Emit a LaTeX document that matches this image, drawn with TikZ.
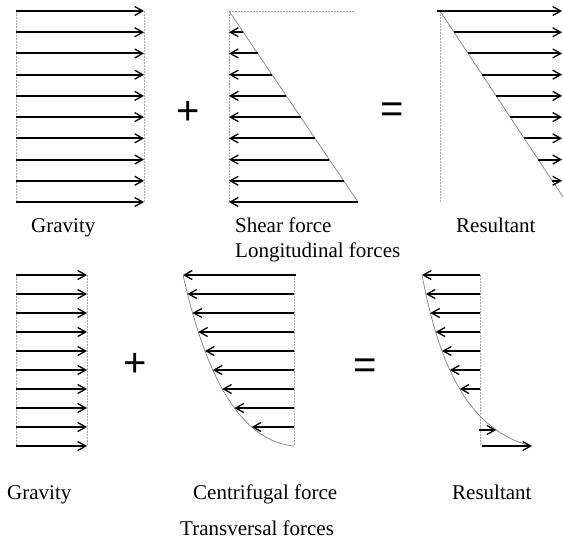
\documentclass[tikz,border=0pt]{standalone}
\usepackage{fontspec}
\setmainfont{Liberation Serif}
\newfontfamily\symfont{Liberation Sans}
\usetikzlibrary{arrows.meta,intersections}
\begin{document}
\begin{tikzpicture}[x=1pt,y=-1pt,
  force/.style={line width=1.9pt,-{Straight Barb[length=8pt,width=9pt,line width=1.3pt]}},
  frame/.style={gray!70,line width=0.7pt,dash pattern=on 2pt off 1pt},
  profile/.style={gray,line width=0.7pt},
  lbl/.style={font=\fontsize{21}{25}\selectfont,anchor=base west,inner sep=0pt},
  op/.style={font=\symfont\fontsize{40}{40}\selectfont,inner sep=0pt}]
\useasboundingbox (0,0) rectangle (563,539);

% ---------- top row: longitudinal forces ----------
% gravity
\draw[frame] (16,11) -- (16,202);
\draw[frame] (144,11) -- (144,202);
\foreach \i in {0,...,9}
  \draw[force] (16,{11+21.222*\i}) -- (144,{11+21.222*\i});

\node[op] (plusA) at (188,113) {+};

% shear force
\draw[frame] (229,11) -- (229,202);
\draw[frame] (229,11) -- (354,11);
\draw[profile] (229,11) -- (358,202);
\foreach \i in {1,...,9}
  \draw[force] ({229+129*\i/9},{11+21.222*\i}) -- (229,{11+21.222*\i});

\node[op] (eqA) at (392,113) {=};

% resultant
\draw[frame] (440,11) -- (440,202);
\draw[profile] (440,11) -- (563,197);
\draw[force] (437,11) -- (562,11);
\foreach \i in {1,...,8}
  \draw[force] ({440+0.661*21.222*\i},{11+21.222*\i}) -- (562,{11+21.222*\i});

\node[lbl] (gravA) at (31,232) {Gravity};
\node[lbl] (shear) at (235,232) {Shear force};
\node[lbl] (longi) at (235,257) {Longitudinal forces};
\node[lbl] (resA) at (456,232) {Resultant};

% ---------- bottom row: transversal forces ----------
% gravity
\draw[frame] (16,275) -- (16,446);
\draw[frame] (87,275) -- (87,446);
\foreach \i in {0,...,9}
  \draw[force] (16,{275+19*\i}) -- (87,{275+19*\i});

\node[op] (plusB) at (135,365) {+};

% centrifugal force
\draw[frame] (294,275) -- (294,446);
\draw[profile,name path=cf] (183,275) .. controls (200,350) and (230,440) .. (294,446);
\draw[force] (296,275) -- (183,275);
\foreach \i in {1,...,8}{
  \path[name path=hcf] (150,{275+19*\i}) -- (300,{275+19*\i});
  \draw[force,name intersections={of=cf and hcf}] (294,{275+19*\i}) -- (intersection-1);
}

\node[op] (eqB) at (365,369) {=};

% resultant
\draw[frame] (480,275) -- (480,446);
\draw[profile,name path=rs] (422,275) .. controls (440,370) and (470,430) .. (531,446);
\draw[force] (480,275) -- (422,275);
\foreach \i in {1,...,6}{
  \path[name path=hrs] (400,{275+19*\i}) -- (490,{275+19*\i});
  \draw[force,name intersections={of=rs and hrs}] (480,{275+19*\i}) -- (intersection-1);
}
\path[name path=hrt] (470,430) -- (540,430);
\draw[force,name intersections={of=rs and hrt}] (479,430) -- (intersection-1);
\draw[force] (482,446) -- (532,446);

\node[lbl] (gravB) at (7,499) {Gravity};
\node[lbl] (centr) at (193,499) {Centrifugal force};
\node[lbl] (trans) at (180,535) {Transversal forces};
\node[lbl] (resB) at (452,499) {Resultant};
\end{tikzpicture}
\end{document}
